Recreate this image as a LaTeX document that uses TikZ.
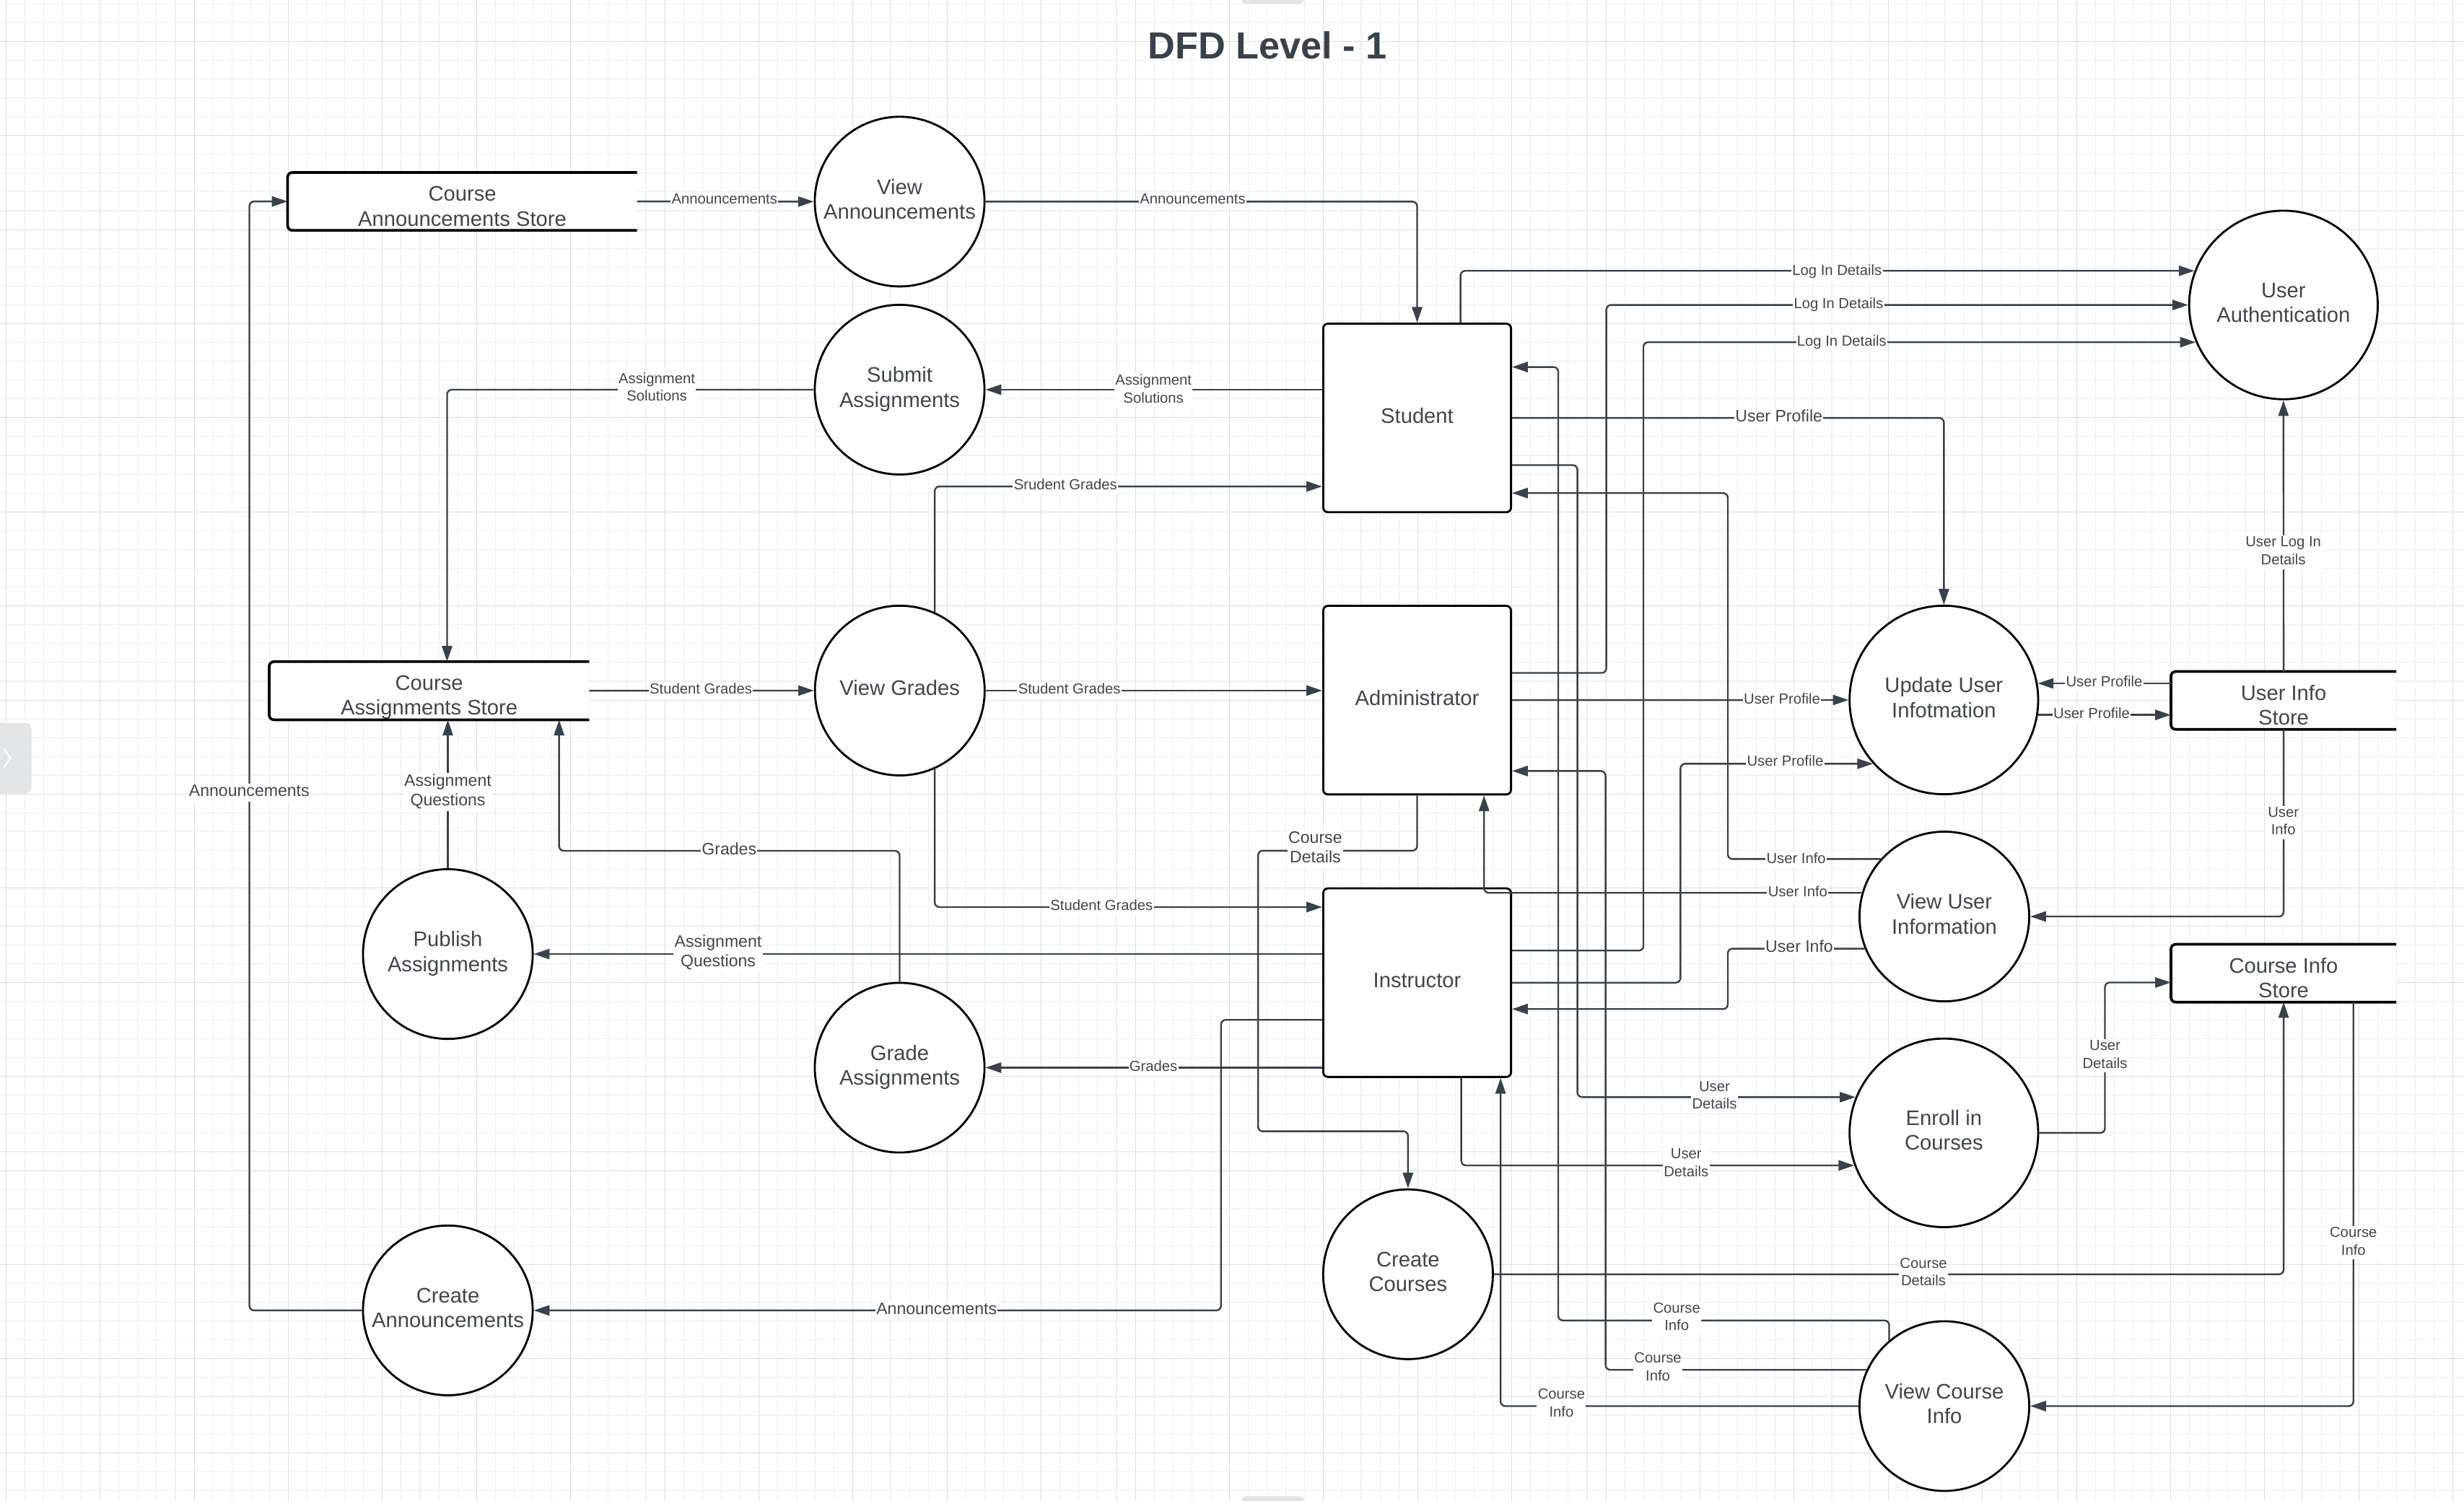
\documentclass[tikz,border=0pt]{standalone}
\usepackage{fontspec}
\setmainfont{Liberation Sans}
\usetikzlibrary{arrows.meta}
\definecolor{ln}{HTML}{3A414A}
\definecolor{tx}{HTML}{40464D}
\definecolor{gmin}{HTML}{EFEFEF}
\definecolor{gmaj}{HTML}{DEDEDE}
\definecolor{tabc}{HTML}{E3E4E6}
\newcommand\st{\rule[-0.25em]{0pt}{0.96em}}
\newcommand\sta{\rule{0pt}{18pt}}
\newcommand\stb{\rule[-2.6pt]{0pt}{2.6pt}}
\begin{document}
\begin{tikzpicture}[x=1pt,y=-1pt,
  nfont/.style={font=\fontsize{13.4}{15.8}\selectfont},
  proc/.style={circle,draw=black,line width=1.3pt,fill=white,minimum size=108pt,inner sep=0pt,text=tx,align=center,nfont},
  bigproc/.style={proc,minimum size=120pt},
  entity/.style={rectangle,draw=black,line width=1.3pt,fill=white,rounded corners=3pt,minimum width=119.5pt,minimum height=120pt,inner sep=0pt,text=tx,nfont},
  store/.style={rectangle,fill=white,inner sep=0pt,minimum height=36.4pt,text=tx,align=center,nfont},
  storeline/.style={draw=black,line width=1.7pt,rounded corners=3pt},
  flow/.style={draw=ln,line width=1.1pt,rounded corners=3pt,-{Triangle[length=10pt,width=6.5pt]}},
  lbl/.style={fill=white,inner sep=0.6pt,text=tx,align=center,font=\fontsize{9.3}{11.2}\selectfont},
  lblb/.style={lbl,font=\fontsize{10.6}{12.6}\selectfont},
  titlestyle/.style={text=ln,font=\fontsize{24}{28}\selectfont\bfseries,inner sep=0pt},
  gridmin/.style={draw=gmin,line width=0.5pt},
  gridmaj/.style={draw=gmaj,line width=0.5pt}]

\useasboundingbox (0,0) rectangle (1568,955.3);
\fill[white] (0,0) rectangle (1568,955.3);
\begin{scope}
\clip (0,0) rectangle (1568,955.3);
\foreach \i in {0,...,130} \draw[gridmin] ({3.8+\i*11.978},0) -- ++(0,955.3);
\foreach \j in {0,...,79} \draw[gridmin] (0,{2.34+\j*11.978}) -- ++(1568,0);
\foreach \i in {0,...,26} \draw[gridmaj] ({3.8+\i*59.89},0) -- ++(0,955.3);
\foreach \j in {0,...,15} \draw[gridmaj] (0,{26.3+\j*59.89}) -- ++(1568,0);
\fill[tabc,rounded corners=4pt] (-6,460) rectangle (20,505);
\draw[white,line width=0.9pt] (2.5,476.5) -- (6.5,482.5) -- (2.5,488.5);
\fill[tabc,rounded corners=3pt] (790,-6) rectangle (830,2.4);
\fill[tabc,rounded corners=3pt] (790,952.3) rectangle (830,962);
\end{scope}

% title
\node[titlestyle] (title) at (806.5,28.9) {DFD Level - 1};

% data stores
\node[store,minimum width=222pt] (cas) at (294.2,128.2) {\sta Course\\Announcements Store\stb};
\node[store,minimum width=203.2pt] (cass) at (273.1,439.6) {\sta Course\\Assignments Store\stb};
\node[store,minimum width=143pt] (uis) at (1453.2,445.8) {\sta User Info\\Store\stb};
\node[store,minimum width=143pt] (cis) at (1453.2,619.4) {\sta Course Info\\Store\stb};
\foreach \s in {cas,cass,uis,cis}
  \draw[storeline] (\s.north east) -- (\s.north west) -- (\s.south west) -- (\s.south east);

% processes
\node[proc] (va) at (572.5,128.3) {\st View\\\st Announcements};
\node[proc] (sa) at (572.5,248) {\st Submit\\\st Assignments};
\node[proc] (vg) at (572.6,439.5) {\st View Grades};
\node[proc] (pa) at (285,607.2) {\st Publish\\\st Assignments};
\node[proc] (ga) at (572.5,679.5) {\st Grade\\\st Assignments};
\node[proc] (ca) at (285,834) {\st Create\\\st Announcements};
\node[proc] (cc) at (896,811) {\st Create\\\st Courses};
\node[bigproc] (ua) at (1453.1,194.1) {\st User\\\st Authentication};
\node[bigproc] (uui) at (1237,445.5) {\st Update User\\\st Infotmation};
\node[proc] (vui) at (1237.3,583.3) {\st View User\\\st Information};
\node[bigproc] (eic) at (1237,721) {\st Enroll in\\\st Courses};
\node[proc] (vci) at (1237.3,894.9) {\st View Course\\\st Info};

% external entities
\node[entity] (student) at (901.8,266) {\st Student};
\node[entity] (admin) at (901.8,445.6) {\st Administrator};
\node[entity] (instr) at (901.8,625.4) {\st Instructor};

% connectors
\draw[flow] (cas.east) -- (va.west);
\draw[flow] (va.east) -| (student.north);
\draw[flow] (student.west |- sa.east) -- (sa.east);
\draw[flow] (sa.west) -| ([xshift=11.4pt]cass.north);
\draw[flow] (vg.66) |- (student.west |- 0,309.6);
\draw[flow] (cass.east) -- (vg.west);
\draw[flow] (vg.east) -- (admin.west |- vg.east);
\draw[flow] (vg.294) |- (instr.west |- 0,577.3);
\draw[flow] (pa.north) -- (pa.north |- cass.south);
\draw[flow] (ga.north) |- (355.8,541.5) -- (355.8,0 |- cass.south);
\draw[flow] (instr.west |- pa.east) -- (pa.east);
\draw[flow] (instr.west |- ga.east) -- (ga.east);
\draw[flow] (instr.west |- 0,649.1) -- (777,649.1) |- (ca.east);
\draw[flow] (ca.west) -- (158.7,0 |- ca.west) |- (cas.west);
\draw[flow] (admin.south) -- (admin.south |- 0,541.4) -| (800.6,720) -| (cc.north);
\draw[flow] (student.north -| 929.4,0) |- (ua.159);
\draw[flow] (admin.east |- 0,428.3) -- (1022.2,428.3) |- (ua.west);
\draw[flow] (instr.east |- 0,605) -- (1045.8,605) |- (ua.203);
\draw[flow] (student.east) -| (uui.north);
\draw[flow] (admin.east) -- (uui.west);
\draw[flow] (instr.east) -- (1069.4,0 |- instr.east) |- (uui.222);
\draw[flow] (uis.west |- uui.10) -- (uui.10);
\draw[flow] (uui.351) -- (uis.west |- uui.351);
\draw[flow] (uis.north) -- (ua.south);
\draw[flow] (uis.south) |- (vui.east);
\draw[flow] (vui.138) -| (1099.5,313.8) -- (student.east |- 0,313.8);
\draw[flow] (vui.164) -| (admin.south -| 944.4,0);
\draw[flow] (vui.202) -| (1099.5,642.2) -- (instr.east |- 0,642.2);
\draw[flow] (vci.130) |- (991.6,840.4) -- (991.6,233.6) -- (student.east |- 0,233.6);
\draw[flow] (student.east |- 0,296) -- (1003.8,296) |- (eic.158);
\draw[flow] (instr.south -| 929.9,0) |- (eic.200);
\draw[flow] (vci.155) -| (1021.7,490.7) -- (admin.east |- 0,490.7);
\draw[flow] (vci.west) -| (instr.south -| 954.9,0);
\draw[flow] (eic.east) -- (1339.5,0 |- eic.east) |- (cis.west |- 0,625.3);
\draw[flow] (cc.east) -| (cis.south);
\draw[flow] (cis.south -| 1497.6,0) |- (vci.east);

% labels
\node[lbl] (l1) at (461,127.5) {\st Announcements};
\node[lbl] (l2) at (759,127.5) {\st Announcements};
\node[lbl] (l3) at (734,248.5) {\st Assignment\\\st Solutions};
\node[lbl] (l4) at (418,247.5) {\st Assignment\\\st Solutions};
\node[lbl] (l5) at (678,309.6) {\st Srudent Grades};
\node[lbl] (l6) at (446,439.5) {\st Student Grades};
\node[lbl] (l7) at (680.5,439.5) {\st Student Grades};
\node[lbl] (l8) at (701,577.3) {\st Student Grades};
\node[lblb] (l9) at (285,504) {\st Assignment\\\st Questions};
\node[lblb] (l10) at (464,541.5) {\st Grades};
\node[lblb] (l11) at (457,606.5) {\st Assignment\\\st Questions};
\node[lbl] (l12) at (734,679.5) {\st Grades};
\node[lblb] (l13) at (596,834) {\st Announcements};
\node[lblb] (l14) at (158.6,504.5) {\st Announcements};
\node[lblb] (l15) at (837,540.5) {\st Course\\\st Details};
\node[lbl] (l16) at (1169,172.9) {\st Log In Details};
\node[lbl] (l17) at (1170,194) {\st Log In Details};
\node[lbl] (l18) at (1172,217.9) {\st Log In Details};
\node[lblb] (l19) at (1132,266) {\st User Profile};
\node[lbl] (l20) at (1134,445.6) {\st User Profile};
\node[lbl] (l21) at (1136,485.3) {\st User Profile};
\node[lbl] (l22) at (1339,434.9) {\st User Profile};
\node[lbl] (l23) at (1331,455) {\st User Profile};
\node[lbl] (l24) at (1453,351.5) {\st User Log In\\\st Details};
\node[lbl] (l25) at (1453,523.5) {\st User\\\st Info};
\node[lbl] (l26) at (1143,547.1) {\st User Info};
\node[lbl] (l27) at (1144,568.3) {\st User Info};
\node[lblb] (l28) at (1145,603.5) {\st User Info};
\node[lbl] (l29) at (1067,839) {\st Course\\\st Info};
\node[lbl] (l30) at (1091,698) {\st User\\\st Details};
\node[lbl] (l31) at (1073,741) {\st User\\\st Details};
\node[lbl] (l32) at (1055,871) {\st Course\\\st Info};
\node[lbl] (l33) at (993.6,894) {\st Course\\\st Info};
\node[lbl] (l34) at (1339.5,672) {\st User\\\st Details};
\node[lbl] (l35) at (1224,810.5) {\st Course\\\st Details};
\node[lbl] (l36) at (1497.6,791) {\st Course\\\st Info};
\end{tikzpicture}
\end{document}
